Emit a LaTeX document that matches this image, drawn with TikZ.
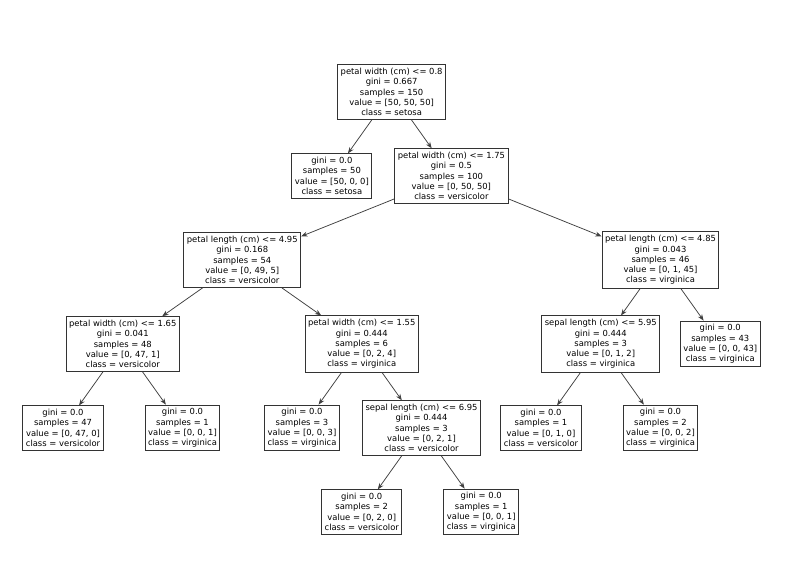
\documentclass[tikz,border=0pt]{standalone}
\usepackage{fontspec}
\setmainfont{DejaVu Sans}
\usetikzlibrary{arrows.meta}
\tikzset{
  nodo/.style={draw=black!80,fill=white,line width=1pt,align=center,font=\fontsize{8.4}{10.3}\selectfont,inner xsep=3pt,inner ysep=3.4pt},
  flecha/.style={-{Stealth[length=2.2mm,width=1.7mm]},line width=0.75pt,black!75},
}

\begin{document}
\begin{tikzpicture}[x=59.75pt,y=-84pt]
  \useasboundingbox[fill=white] (-1.0544,-1.0952) rectangle (12.5188,5.5833);
  % nivel 0 y 1
  \node[nodo] (raiz) at (5.5,0) {petal width (cm) <= 0.8\\gini = 0.667\\samples = 150\\value = [50, 50, 50]\\class = setosa};
  \node[nodo] (setosa) at (4.5,1) {gini = 0.0\\samples = 50\\value = [50, 0, 0]\\class = setosa};
  \node[nodo] (pw175) at (6.5,1) {petal width (cm) <= 1.75\\gini = 0.5\\samples = 100\\value = [0, 50, 50]\\class = versicolor};
  % nivel 2
  \node[nodo] (pl495) at (3,2) {petal length (cm) <= 4.95\\gini = 0.168\\samples = 54\\value = [0, 49, 5]\\class = versicolor};
  \node[nodo] (pl485) at (10,2) {petal length (cm) <= 4.85\\gini = 0.043\\samples = 46\\value = [0, 1, 45]\\class = virginica};
  % nivel 3
  \node[nodo] (pw165) at (1,3) {petal width (cm) <= 1.65\\gini = 0.041\\samples = 48\\value = [0, 47, 1]\\class = versicolor};
  \node[nodo] (pw155) at (5,3) {petal width (cm) <= 1.55\\gini = 0.444\\samples = 6\\value = [0, 2, 4]\\class = virginica};
  \node[nodo] (sl595) at (9,3) {sepal length (cm) <= 5.95\\gini = 0.444\\samples = 3\\value = [0, 1, 2]\\class = virginica};
  \node[nodo] (hoja43) at (11,3) {gini = 0.0\\samples = 43\\value = [0, 0, 43]\\class = virginica};
  % nivel 4
  \node[nodo] (hoja47) at (0,4) {gini = 0.0\\samples = 47\\value = [0, 47, 0]\\class = versicolor};
  \node[nodo] (hoja1a) at (2,4) {gini = 0.0\\samples = 1\\value = [0, 0, 1]\\class = virginica};
  \node[nodo] (hoja3) at (4,4) {gini = 0.0\\samples = 3\\value = [0, 0, 3]\\class = virginica};
  \node[nodo] (sl695) at (6,4) {sepal length (cm) <= 6.95\\gini = 0.444\\samples = 3\\value = [0, 2, 1]\\class = versicolor};
  \node[nodo] (hoja1b) at (8,4) {gini = 0.0\\samples = 1\\value = [0, 1, 0]\\class = versicolor};
  \node[nodo] (hoja2a) at (10,4) {gini = 0.0\\samples = 2\\value = [0, 0, 2]\\class = virginica};
  % nivel 5
  \node[nodo] (hoja2b) at (5,5) {gini = 0.0\\samples = 2\\value = [0, 2, 0]\\class = versicolor};
  \node[nodo] (hoja1c) at (7,5) {gini = 0.0\\samples = 1\\value = [0, 0, 1]\\class = virginica};
  % aristas
  \draw[flecha] (raiz) -- (setosa); \draw[flecha] (raiz) -- (pw175);
  \draw[flecha] (pw175) -- (pl495); \draw[flecha] (pw175) -- (pl485);
  \draw[flecha] (pl495) -- (pw165); \draw[flecha] (pl495) -- (pw155);
  \draw[flecha] (pl485) -- (sl595); \draw[flecha] (pl485) -- (hoja43);
  \draw[flecha] (pw165) -- (hoja47); \draw[flecha] (pw165) -- (hoja1a);
  \draw[flecha] (pw155) -- (hoja3); \draw[flecha] (pw155) -- (sl695);
  \draw[flecha] (sl595) -- (hoja1b); \draw[flecha] (sl595) -- (hoja2a);
  \draw[flecha] (sl695) -- (hoja2b); \draw[flecha] (sl695) -- (hoja1c);
\end{tikzpicture}
\end{document}
